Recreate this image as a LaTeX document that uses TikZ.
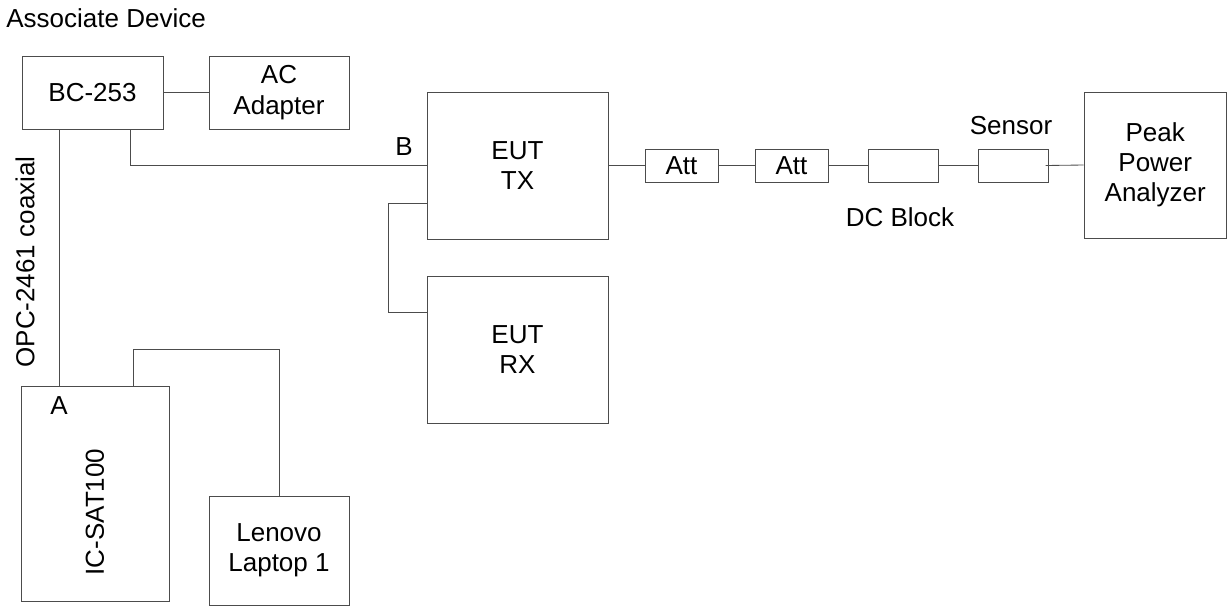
\documentclass[tikz,border=0pt]{standalone}
\usepackage{fontspec}
\setmainfont{Liberation Sans}
\usetikzlibrary{positioning}
\tikzset{
  devbox/.style={draw=black!70,line width=0.6pt,align=center,inner sep=0pt,
    font=\fontsize{18.5}{21.5}\selectfont},
  attBox/.style={devbox,minimum width=1.825cm,minimum height=0.825cm},
  wire/.style={draw=black!70,line width=0.6pt},
  tag/.style={inner sep=0pt,font=\fontsize{18.5}{21.5}\selectfont}
}

\begin{document}
\begin{tikzpicture}[x=0.025cm,y=-0.025cm]
  \useasboundingbox (0,0) rectangle (1228,606);
  \node[tag,anchor=base west] (AD) at (6,27) {Associate Device};

  \node[devbox,minimum width=3.525cm,minimum height=1.825cm] (BC) at (92.5,92.5) {BC-253};
  \node[devbox,minimum width=3.5cm,minimum height=1.825cm] (AC) at (279,92.5) {AC\\Adapter};
  \node[devbox,minimum width=4.525cm,minimum height=3.675cm] (TX) at (517.5,165.5) {EUT\\TX};
  \node[devbox,minimum width=4.525cm,minimum height=3.675cm] (RX) at (517.5,349.5) {EUT\\RX};
  \node[devbox,minimum width=3.7cm,minimum height=5.375cm] (SAT) at (95,493.5) {};
  \node[tag,rotate=90] (SATt) at (95,512) {IC-SAT100};
  \node[devbox,minimum width=3.5cm,minimum height=2.725cm] (LT) at (279,550.5) {Lenovo\\Laptop 1};

  \node[attBox] (AT1) at (681.5,165.5) {Att};
  \node[attBox] (AT2) at (791.5,165.5) {Att};
  \node[attBox,minimum width=1.75cm] (DCB) at (903,165.5) {};
  \node[attBox,minimum width=1.75cm] (SEN) at (1013,165.5) {};
  \node[devbox,minimum width=3.5625cm,minimum height=3.65cm] (PPA) at (1155.25,165) {Peak\\Power\\Analyzer};

  % labels
  \node[tag] (A) at (59,406) {A};
  \node[tag] (B) at (404,147) {B};
  \node[tag,rotate=90] (OPC) at (25,262) {OPC-2461 coaxial};
  \node[tag] (SENt) at (1011,126) {Sensor};
  \node[tag] (DCBt) at (900,217.5) {DC Block};

  % ports
  \coordinate (bcB) at (130,129);
  \coordinate (txL) at (427,203);
  \coordinate (rxL) at (427,312);
  \coordinate (satL) at (133,386);

  \draw[wire] (BC.east) -- (AC.west);
  \draw[wire] (BC.south -| A) -- (SAT.north -| A);
  \draw[wire] (bcB) |- (TX.west);
  \draw[wire] (txL) -- ++(-39,0) |- (rxL);
  \draw[wire] (satL) -- ++(0,-37) -| (LT.north);
  \draw[wire] (TX.east) -- (AT1.west) (AT1.east) -- (AT2.west)
        (AT2.east) -- (DCB.west) (DCB.east) -- (SEN.west);
  \draw[wire] ([xshift=-2pt]SEN.east) -- (PPA.west);
\end{tikzpicture}
\end{document}
